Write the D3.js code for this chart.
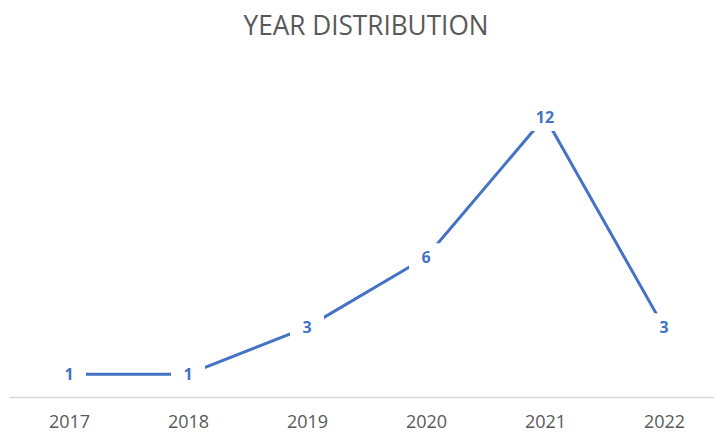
<!DOCTYPE html>
<html>
<head>
<meta charset="utf-8">
<script src="https://cdn.jsdelivr.net/npm/d3@7"></script>
<style>
  html, body { margin: 0; padding: 0; background: #fff; }
  svg { display: block; }
</style>
</head>
<body>
<svg id="chart" width="714" height="432"></svg>
<script>
// Publications per year
const years = ["2017", "2018", "2019", "2020", "2021", "2022"];
const counts = [1, 1, 3, 6, 12, 3];
const chartTitle = "YEAR DISTRIBUTION";

const W = 714, H = 432;
const svg = d3.select("#chart");

const x = d3.scalePoint()
  .domain(years)
  .range([9.5, 723.5])
  .padding(0.5);

const y = d3.scaleLinear()
  .domain([0, 12])
  .range([397.5, 117]);

// Title
svg.append("text")
  .attr("x", 366)
  .attr("y", 35)
  .attr("text-anchor", "middle")
  .attr("font-family", "'Open Sans', sans-serif")
  .attr("font-size", 28)
  .attr("fill", "#595959")
  .attr("textLength", 245)
  .attr("lengthAdjust", "spacingAndGlyphs")
  .text(chartTitle);

// Category axis
const axis = d3.axisBottom(x).tickSize(0).tickPadding(0);
const gAxis = svg.append("g")
  .attr("transform", `translate(0,${y(0)})`)
  .call(axis);
gAxis.select(".domain")
  .attr("d", `M9.5,0H723.5`)
  .attr("stroke", "#d9d9d9")
  .attr("stroke-width", 1.5);
gAxis.selectAll(".tick text")
  .attr("dy", null)
  .attr("y", 30)
  .attr("font-family", "'Open Sans', sans-serif")
  .attr("font-size", 18)
  .attr("fill", "#595959");

// Series line
const line = d3.line()
  .x((d, i) => x(years[i]))
  .y(d => y(d));

svg.append("path")
  .datum(counts)
  .attr("d", line)
  .attr("fill", "none")
  .attr("stroke", "#4472C4")
  .attr("stroke-width", 3)
  .attr("stroke-linejoin", "round");

// Data labels on white backing boxes
const labels = svg.append("g").selectAll("g")
  .data(counts)
  .join("g")
  .attr("transform", (d, i) => `translate(${x(years[i])},${y(d)})`);

labels.append("rect")
  .attr("x", -17)
  .attr("y", -14)
  .attr("width", 34)
  .attr("height", 28)
  .attr("fill", "#fff");

labels.append("text")
  .attr("text-anchor", "middle")
  .attr("dy", "0.36em")
  .attr("font-family", "'Open Sans', sans-serif")
  .attr("font-weight", "bold")
  .attr("font-size", 16)
  .attr("fill", "#4472C4")
  .text(d => d);
</script>
</body>
</html>
